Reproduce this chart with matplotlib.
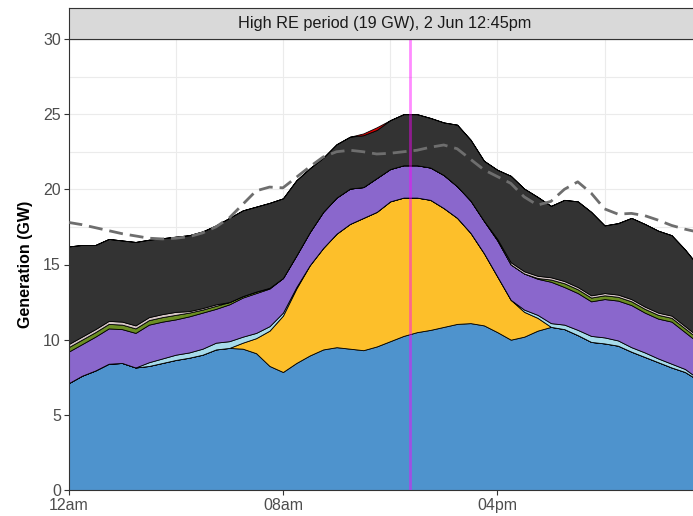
import numpy as np
import matplotlib
matplotlib.use("Agg")
import matplotlib.pyplot as plt

plt.rcParams["font.family"] = ["Liberation Sans", "DejaVu Sans"]

# half-hourly generation by source (GW)
hours = np.arange(0, 24, 0.5)
hydro = [7.1, 7.6, 7.95, 8.4, 8.45, 8.15, 8.25, 8.45, 8.65, 8.8,
         9.0, 9.35, 9.45, 9.4, 9.1, 8.25, 7.85, 8.45, 8.95, 9.35,
         9.5, 9.4, 9.3, 9.55, 9.9, 10.25, 10.5, 10.65, 10.85, 11.05,
         11.1, 10.95, 10.5, 10.0, 10.2, 10.6, 10.85, 10.7, 10.3, 9.85,
         9.75, 9.6, 9.2, 8.85, 8.5, 8.15, 7.85, 7.3]
solar = [0, 0, 0, 0, 0, 0, 0, 0, 0, 0,
         0, 0, 0, 0.4, 1.0, 2.35, 3.75, 4.95, 6.0, 6.75,
         7.55, 8.3, 8.8, 8.95, 9.3, 9.2, 8.95, 8.65, 7.9, 7.05,
         6.0, 4.8, 3.7, 2.65, 1.65, 0.85, 0, 0, 0, 0,
         0, 0, 0, 0, 0, 0, 0, 0]
storage = [0, 0, 0, 0, 0, 0, 0.25, 0.3, 0.35, 0.35,
           0.4, 0.45, 0.45, 0.4, 0.35, 0.3, 0.2, 0.1, 0, 0,
           0, 0, 0, 0, 0, 0, 0, 0, 0, 0,
           0, 0, 0, 0, 0.15, 0.2, 0.25, 0.3, 0.35, 0.4,
           0.4, 0.35, 0.3, 0.3, 0.25, 0.25, 0.2, 0.1]
wind = [2.1, 2.1, 2.25, 2.35, 2.25, 2.3, 2.5, 2.45, 2.35, 2.4,
        2.4, 2.25, 2.45, 2.6, 2.65, 2.5, 2.3, 2.1, 2.2, 2.4,
        2.4, 2.35, 2.05, 2.25, 2.15, 2.15, 2.15, 2.15, 2.2, 2.1,
        2.15, 2.15, 2.4, 2.35, 2.4, 2.4, 2.75, 2.5, 2.45, 2.3,
        2.55, 2.65, 2.8, 2.65, 2.65, 2.8, 2.45, 2.4]
biomass = [0.3, 0.3, 0.3, 0.3, 0.3, 0.3, 0.3, 0.3, 0.3, 0.25,
           0.2, 0.2, 0.15, 0.1, 0.1, 0.05, 0, 0, 0, 0,
           0, 0, 0, 0, 0, 0, 0, 0, 0, 0,
           0, 0, 0, 0, 0, 0.05, 0.15, 0.25, 0.25, 0.25,
           0.25, 0.25, 0.25, 0.25, 0.25, 0.25, 0.25, 0.25]
other = [0.2, 0.2, 0.2, 0.2, 0.2, 0.2, 0.2, 0.2, 0.2, 0.1,
         0.1, 0.1, 0, 0, 0, 0, 0, 0, 0, 0,
         0, 0, 0, 0, 0, 0, 0, 0, 0, 0,
         0, 0, 0.1, 0.15, 0.15, 0.15, 0.15, 0.15, 0.15, 0.15,
         0.15, 0.15, 0.15, 0.15, 0.15, 0.15, 0.15, 0.15]
coal = [6.5, 6.1, 5.6, 5.45, 5.4, 5.55, 5.15, 5.05, 5.0, 5.05,
        5.1, 5.25, 5.6, 5.7, 5.65, 5.65, 5.3, 5.0, 4.25, 3.6,
        3.55, 3.45, 3.45, 3.2, 3.25, 3.4, 3.4, 3.3, 3.5, 4.1,
        4.05, 4.0, 4.6, 5.75, 5.5, 5.25, 4.75, 5.4, 5.7, 5.55,
        4.5, 4.75, 5.4, 5.5, 5.45, 5.35, 5.1, 4.7]
oil = [0, 0, 0, 0, 0, 0, 0, 0, 0, 0,
       0, 0, 0, 0, 0, 0, 0, 0, 0, 0,
       0, 0, 0.12, 0.18, 0, 0, 0, 0, 0, 0,
       0, 0, 0, 0, 0, 0, 0, 0, 0, 0,
       0, 0, 0, 0, 0, 0, 0, 0]
demand = [17.8, 17.65, 17.45, 17.25, 17.05, 16.9, 16.75, 16.7, 16.75, 16.85,
          17.1, 17.5, 18.1, 19.0, 19.9, 20.15, 20.1, 20.8, 21.5, 22.15,
          22.5, 22.6, 22.5, 22.35, 22.4, 22.5, 22.6, 22.8, 22.95, 22.7,
          22.0, 21.3, 20.85, 20.4, 19.5, 18.95, 19.2, 20.0, 20.5, 19.75,
          18.7, 18.35, 18.4, 18.25, 17.95, 17.6, 17.35, 17.15]

snapshot_hour = 12.75
panel_title = "High RE period (19 GW), 2 Jun 12:45pm"
tick_hours = [0, 8, 16]
tick_labels = ["12am", "08am", "04pm"]

layers = [hydro, solar, storage, wind, biomass, other, coal, oil]
colors = ["#4e93cd", "#fdbf2a", "#a7dbeb", "#8a67cc",
          "#6b8e23", "#d6c6c6", "#333333", "#dd0000"]

W, H = 693, 516
fig = plt.figure(figsize=(W / 100, H / 100), dpi=100)
ax = fig.add_axes([68.5 / W, 26 / H, 1 - 68.5 / W, 451 / H])

ax.stackplot(hours, layers, colors=colors, edgecolor="black", linewidth=0.6, zorder=2)
ax.plot(hours, demand, color="#6e6e6e", lw=2, dashes=(5, 2.5), zorder=3)
ax.axvline(snapshot_hour, color="magenta", alpha=0.45, lw=2, zorder=4)

ax.set_xlim(0, 23.3)
ax.set_ylim(0, 30)
ax.set_xticks(tick_hours)
ax.set_xticklabels(tick_labels)
ax.set_xticks([4, 12, 20], minor=True)
ax.set_yticks(range(0, 31, 5))
ax.set_yticks(np.arange(2.5, 30, 5), minor=True)
ax.grid(True, which="both", color="#ebebeb", lw=0.8, zorder=0)
ax.set_axisbelow(True)
ax.tick_params(which="major", length=3.5, width=0.8, color="#333333",
               labelsize=11.5, labelcolor="#4d4d4d", pad=2)
ax.tick_params(which="minor", length=0)
for side in ["left", "bottom", "top"]:
    ax.spines[side].set_color("#333333")
    ax.spines[side].set_linewidth(0.8)
ax.spines["right"].set_visible(False)
ax.set_ylabel("Generation (GW)", fontsize=11.5, fontweight="bold", labelpad=7)

# facet strip on top of the panel
strip = fig.add_axes([68.5 / W, (H - 39) / H, 1 - 68.5 / W, 31 / H])
strip.set_facecolor("#d9d9d9")
strip.set_xticks([])
strip.set_yticks([])
for side in ["left", "bottom", "top"]:
    strip.spines[side].set_color("#333333")
    strip.spines[side].set_linewidth(0.8)
strip.spines["right"].set_visible(False)
strip.text(0.507, 0.5, panel_title, ha="center", va="center",
           fontsize=11.7, color="#1a1a1a", transform=strip.transAxes)

fig.savefig("out.png", dpi=100)
